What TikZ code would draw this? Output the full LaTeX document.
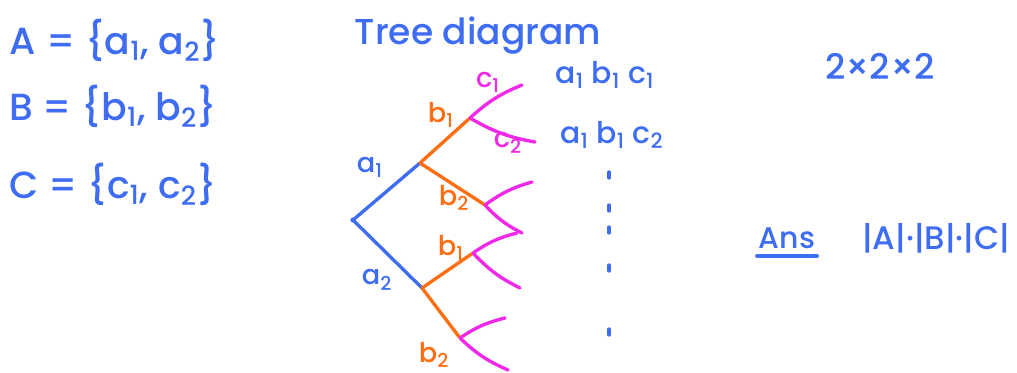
\documentclass[tikz,border=0pt]{standalone}
\usepackage{fontspec}
\setmainfont{Poppins Medium}
\usetikzlibrary{positioning}
\definecolor{penblue}{RGB}{62,108,242}
\definecolor{penorange}{RGB}{255,110,18}
\definecolor{penpink}{RGB}{240,40,232}
\newcommand{\idx}[1]{\textsubscript{#1}}
\tikzset{
  stroke/.style={line width=1.9pt,line cap=round,line join=round},
  ablue/.style={stroke,penblue},
  borange/.style={stroke,penorange},
  cpink/.style={stroke,penpink},
  pt/.style={inner sep=0pt,minimum size=0pt},
  big/.style={text=penblue,font=\fontsize{21.5}{24}\selectfont,inner sep=1pt},
  mid/.style={font=\fontsize{17}{19}\selectfont,inner sep=1pt},
  lab/.style={font=\fontsize{15.5}{17}\selectfont,inner sep=1pt},
}

\begin{document}
\begin{tikzpicture}[x=0.02cm,y=-0.02cm]
  \path[use as bounding box] (0,0) rectangle (1017,372);

  % the three sets
  \node[big] (setA) at (115,40) {A = \{a\idx{1}, a\idx{2}\}};
  \node[big] (setB) at (113,106) {B = \{b\idx{1}, b\idx{2}\}};
  \node[big] (setC) at (113,184) {C = \{c\idx{1}, c\idx{2}\}};

  \node[mid,text=penblue,font=\fontsize{20.5}{22}\selectfont] (title) at (478,36) {Tree diagram};

  % branch points
  \node[pt] (root) at (353,220) {};
  \node[pt] (a1) at (420,163) {};
  \node[pt] (a2) at (422,288) {};
  \node[pt] (b11) at (470,118) {};
  \node[pt] (b12) at (485,205) {};
  \node[pt] (b21) at (473,253) {};
  \node[pt] (b22) at (460,338) {};
  \coordinate (c111) at (522,85);
  \coordinate (c112) at (535,142);
  \coordinate (c121) at (532,182);
  \coordinate (c122) at (522,233);
  \coordinate (c211) at (517,233);
  \coordinate (c212) at (520,288);
  \coordinate (c221) at (505,318);
  \coordinate (c222) at (508,370);

  \fill[penblue] (root) circle (2.6);
  \draw[ablue] (root) -- (a1);
  \draw[ablue] (root) -- (a2);
  \draw[borange] (a1) -- (b11);
  \draw[borange] (a1) -- (b12);
  \draw[borange] (a2) -- (b21);
  \draw[borange] (a2) -- (b22);
  \foreach \b in {11,12,21,22}{
    \draw[cpink] (b\b) to[bend left=10] (c\b1);
    \draw[cpink] (b\b) to[bend right=10] (c\b2);
  }

  % branch labels
  \node[lab,text=penblue] (la1) at (370,167) {a\idx{1}};
  \node[lab,text=penblue] (la2) at (377,280) {a\idx{2}};
  \node[lab,text=penorange] (lb11) at (441,115) {b\idx{1}};
  \node[lab,text=penorange] (lb12) at (454,198) {b\idx{2}};
  \node[lab,text=penorange] (lb21) at (451,248) {b\idx{1}};
  \node[lab,text=penorange] (lb22) at (434,355) {b\idx{2}};
  \node[lab,text=penpink] (lc1) at (488,82) {c\idx{1}};
  \node[lab,text=penpink] (lc2) at (508,143) {c\idx{2}};

  % outcomes
  \node[mid,text=penblue] (o1) at (605,75) {a\idx{1} b\idx{1} c\idx{1}};
  \node[mid,text=penblue] (o2) at (612,135) {a\idx{1} b\idx{1} c\idx{2}};
  \foreach \y in {175,208,230,268,332}
    \draw[ablue] (609,\y-3) -- (609,\y+3);

  \node[mid,text=penblue,font=\fontsize{20}{22}\selectfont] (prod) at (880,66) {2×2×2};
  \node[mid,text=penblue] (ans) at (787,238) {Ans};
  \draw[ablue] ([yshift=-3pt]ans.south west) -- ([yshift=-3pt]ans.south east);
  \node[mid,text=penblue,font=\fontsize{18.5}{21}\selectfont] (card) at (936,238) {|A|·|B|·|C|};
\end{tikzpicture}
\end{document}
